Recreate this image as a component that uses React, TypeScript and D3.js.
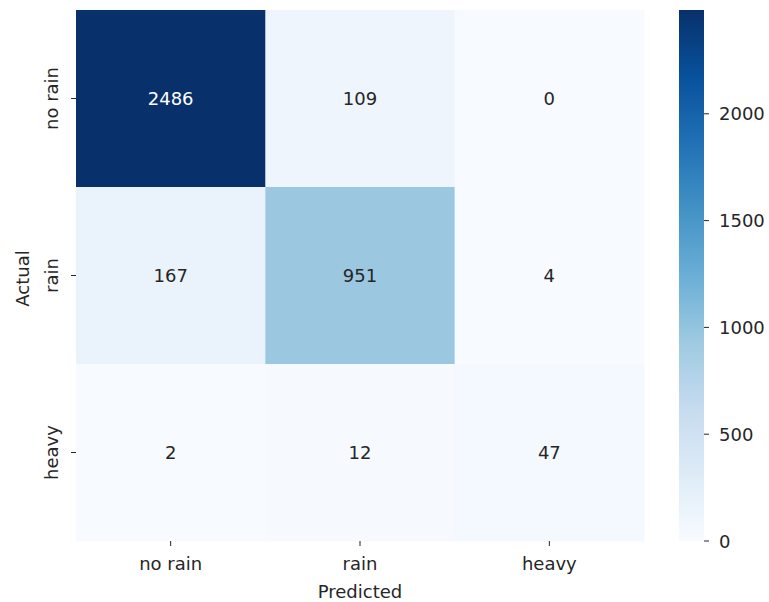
import React from "react";
import * as d3 from "d3";

// Confusion matrix: rows = actual class, columns = predicted class
const classes = ["no rain", "rain", "heavy"];
const counts = [
  [2486, 109, 0],
  [167, 951, 4],
  [2, 12, 47],
];
const colorbarTicks = [0, 500, 1000, 1500, 2000];
// Blues palette stops (light to dark)
const bluesStops = [
  "#f7fbff", "#deebf7", "#c6dbef", "#9ecae1", "#6baed6",
  "#4292c6", "#2171b5", "#08519c", "#08306b",
];

const W = 769;
const H = 602;
const FONT = "'DejaVu Sans', sans-serif";
const FS = 18;

export default function App() {
  const left = 76, right = 644, top = 10, bottom = 541;
  const cbX = 679, cbW = 25;

  const flat = counts.flat();
  const vmin = d3.min(flat) as number;
  const vmax = d3.max(flat) as number;

  const x = d3.scaleBand().domain(classes).range([left, right]).padding(0);
  const y = d3.scaleBand().domain(classes).range([top, bottom]).padding(0);
  const color = d3
    .scaleLinear<string>()
    .domain(bluesStops.map((_, i) => vmin + ((vmax - vmin) * i) / (bluesStops.length - 1)))
    .range(bluesStops)
    .interpolate(d3.interpolateRgb);
  const cbScale = d3.scaleLinear().domain([vmin, vmax]).range([bottom, top]);

  const textColor = (v: number) => {
    const c = d3.rgb(color(v));
    const lum = (0.2126 * c.r + 0.7152 * c.g + 0.0722 * c.b) / 255;
    return lum < 0.408 ? "#ffffff" : "#262626";
  };

  return (
    <svg width={W} height={H} style={{ position: "absolute", left: 0, top: 0, background: "#fff" }}>
      <defs>
        <linearGradient id="cbGrad" x1="0" y1="1" x2="0" y2="0">
          {bluesStops.map((c, i) => (
            <stop key={i} offset={`${(i / (bluesStops.length - 1)) * 100}%`} stopColor={c} />
          ))}
        </linearGradient>
      </defs>

      {/* heatmap cells */}
      {counts.map((row, ri) =>
        row.map((v, ci) => (
          <g key={`${ri}-${ci}`}>
            <rect
              x={x(classes[ci])}
              y={y(classes[ri])}
              width={x.bandwidth() + 0.5}
              height={y.bandwidth() + 0.5}
              fill={color(v)}
            />
            <text
              x={(x(classes[ci]) as number) + x.bandwidth() / 2}
              y={(y(classes[ri]) as number) + y.bandwidth() / 2}
              textAnchor="middle"
              dominantBaseline="central"
              fontFamily={FONT}
              fontSize={FS}
              fill={textColor(v)}
            >
              {v}
            </text>
          </g>
        ))
      )}

      {/* x axis ticks and labels */}
      {classes.map((c) => {
        const cx = (x(c) as number) + x.bandwidth() / 2;
        return (
          <g key={`xt-${c}`}>
            <line x1={cx} x2={cx} y1={bottom} y2={bottom + 5} stroke="#262626" strokeWidth={1} />
            <text x={cx} y={bottom + 22} textAnchor="middle" dominantBaseline="central" fontFamily={FONT} fontSize={FS} fill="#262626">
              {c}
            </text>
          </g>
        );
      })}
      <text x={(left + right) / 2} y={591} textAnchor="middle" dominantBaseline="central" fontFamily={FONT} fontSize={FS} fill="#262626">
        Predicted
      </text>

      {/* y axis ticks and labels */}
      {classes.map((c) => {
        const cy = (y(c) as number) + y.bandwidth() / 2;
        return (
          <g key={`yt-${c}`}>
            <line x1={left - 5} x2={left} y1={cy} y2={cy} stroke="#262626" strokeWidth={1} />
            <text
              transform={`translate(${left - 25},${cy}) rotate(-90)`}
              textAnchor="middle"
              dominantBaseline="central"
              fontFamily={FONT}
              fontSize={FS}
              fill="#262626"
            >
              {c}
            </text>
          </g>
        );
      })}
      <text
        transform={`translate(22,${(top + bottom) / 2 + 3}) rotate(-90)`}
        textAnchor="middle"
        dominantBaseline="central"
        fontFamily={FONT}
        fontSize={FS}
        fill="#262626"
      >
        Actual
      </text>

      {/* colorbar */}
      <rect x={cbX} y={top} width={cbW} height={bottom - top} fill="url(#cbGrad)" />
      {colorbarTicks.map((t) => (
        <g key={`cb-${t}`}>
          <line x1={cbX + cbW} x2={cbX + cbW + 5} y1={cbScale(t)} y2={cbScale(t)} stroke="#262626" strokeWidth={1} />
          <text x={cbX + cbW + 15} y={cbScale(t)} dominantBaseline="central" fontFamily={FONT} fontSize={FS} fill="#262626">
            {t}
          </text>
        </g>
      ))}
    </svg>
  );
}
